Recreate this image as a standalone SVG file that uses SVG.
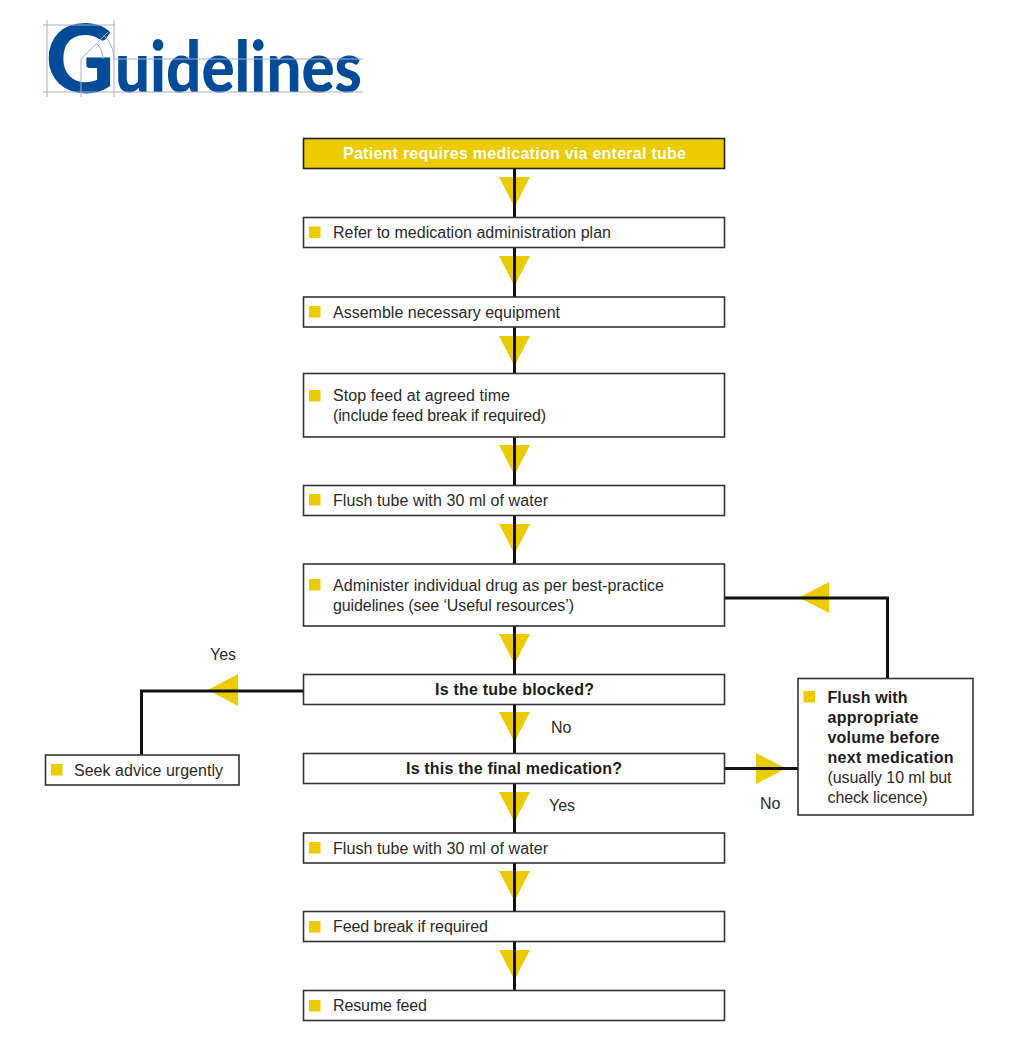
<svg xmlns="http://www.w3.org/2000/svg" xmlns:xlink="http://www.w3.org/1999/xlink" width="1022" height="1060" viewBox="0 0 1022 1060">
<style>
.box{fill:#fff;stroke:#333;stroke-width:1.6}
.t{font-family:"Liberation Sans",Arial,sans-serif;font-size:16px;fill:#2a2a2a}
.b{font-weight:700;fill:#1c1c1c}
.bul{fill:#eccb00}
.wire{fill:none;stroke:#111;stroke-width:3}
.tri{fill:#eccb00}
.guide{fill:none;stroke:#a9aed0;stroke-width:1}
.logo{font-family:Lato,"Liberation Sans",sans-serif;font-weight:900;fill:#024b98}
</style>
<defs>
<polygon id="d" class="tri" points="-15.500,0 15.500,0 0,30"/>
<rect id="s" class="bul" width="11.500" height="11.500"/>
</defs>
<rect width="1022" height="1060" fill="#fff"/>
<g id="logo">
<text class="logo" x="45.500" y="92.500" font-size="96" textLength="69" lengthAdjust="spacingAndGlyphs">G</text>
<text class="logo" x="115" y="92" font-size="70" textLength="247" lengthAdjust="spacingAndGlyphs">uidelines</text>
<path class="guide" d="M43 25H115M43 92H363M113 59H363M47 20V97M81 59V97M114 20V97M81 59L108 32M114 59A33 33 0 0 0 104 35.500M103 59A22 22 0 0 0 96.500 43.500"/>
</g>
<g id="connectors">
<use xlink:href="#d" href="#d" x="514.500" y="177"/>
<use xlink:href="#d" href="#d" x="514.500" y="256"/>
<use xlink:href="#d" href="#d" x="514.500" y="336"/>
<use xlink:href="#d" href="#d" x="514.500" y="445"/>
<use xlink:href="#d" href="#d" x="514.500" y="524"/>
<use xlink:href="#d" href="#d" x="514.500" y="634"/>
<use xlink:href="#d" href="#d" x="514.500" y="712"/>
<use xlink:href="#d" href="#d" x="514.500" y="792"/>
<use xlink:href="#d" href="#d" x="514.500" y="871"/>
<use xlink:href="#d" href="#d" x="514.500" y="950"/>
<polygon class="tri" points="208,690 238,674 238,706"/>
<polygon class="tri" points="799,597.500 829,582 829,613"/>
<polygon class="tri" points="786,768.500 756,753 756,784"/>
<path class="wire" d="M514.500 168V217M514.500 247V297M514.500 327V373M514.500 437V485M514.500 515V564M514.500 626V674M514.500 704V753M514.500 783V833M514.500 863V911M514.500 941V990"/>
<path class="wire" d="M303 691H141.500V755"/>
<path class="wire" d="M724 598H887.500V678"/>
<path class="wire" d="M724 768.500H798"/>
</g>
<g id="n1"><rect x="303.500" y="138.500" width="421" height="30" fill="#eccb00" stroke="#222" stroke-width="1.6"/><text class="t" x="343" y="159" textLength="343" style="font-weight:700;fill:#fff">Patient requires medication via enteral tube</text></g>
<g id="n2"><rect class="box" x="303.500" y="217.500" width="421" height="30"/><use xlink:href="#s" href="#s" x="309" y="226.500"/><text class="t" x="333" y="238" textLength="278">Refer to medication administration plan</text></g>
<g id="n3"><rect class="box" x="303.500" y="297" width="421" height="30"/><use xlink:href="#s" href="#s" x="309" y="306"/><text class="t" x="333" y="318" textLength="227">Assemble necessary equipment</text></g>
<g id="n4"><rect class="box" x="303.500" y="373.500" width="421" height="63.500"/><use xlink:href="#s" href="#s" x="309" y="390"/><text class="t" x="333" y="401" textLength="177">Stop feed at agreed time</text><text class="t" x="333" y="421" textLength="213">(include feed break if required)</text></g>
<g id="n5"><rect class="box" x="303.500" y="485.500" width="421" height="30"/><use xlink:href="#s" href="#s" x="309" y="494"/><text class="t" x="333" y="506" textLength="215">Flush tube with 30 ml of water</text></g>
<g id="n6"><rect class="box" x="303.500" y="564" width="421" height="62"/><use xlink:href="#s" href="#s" x="309" y="579"/><text class="t" x="333" y="591" textLength="331">Administer individual drug as per best-practice</text><text class="t" x="333" y="611" textLength="241">guidelines (see ‘Useful resources’)</text></g>
<g id="n7"><rect class="box" x="303.500" y="674.500" width="421" height="30"/><text class="t b" x="435" y="695" textLength="159">Is the tube blocked?</text></g>
<g id="n8"><rect class="box" x="303.500" y="753.500" width="421" height="30"/><text class="t b" x="406" y="774" textLength="216">Is this the final medication?</text></g>
<g id="n9"><rect class="box" x="303.500" y="833" width="421" height="30"/><use xlink:href="#s" href="#s" x="309" y="842"/><text class="t" x="333" y="854" textLength="215">Flush tube with 30 ml of water</text></g>
<g id="n10"><rect class="box" x="303.500" y="911.500" width="421" height="30"/><use xlink:href="#s" href="#s" x="309" y="921"/><text class="t" x="333" y="932" textLength="155">Feed break if required</text></g>
<g id="n11"><rect class="box" x="303.500" y="990.500" width="421" height="30"/><use xlink:href="#s" href="#s" x="309" y="1000"/><text class="t" x="333" y="1011" textLength="94">Resume feed</text></g>
<g id="n12"><rect class="box" x="45.500" y="755" width="193.500" height="30"/><use xlink:href="#s" href="#s" x="51" y="764"/><text class="t" x="74" y="776" textLength="149">Seek advice urgently</text></g>
<g id="n13"><rect class="box" x="798" y="678.500" width="175" height="136.500"/><use xlink:href="#s" href="#s" x="803.500" y="691"/>
<text class="t b" x="827.500" y="703" textLength="80">Flush with</text><text class="t b" x="827.500" y="723" textLength="91">appropriate</text><text class="t b" x="827.500" y="743" textLength="112">volume before</text><text class="t b" x="827.500" y="763" textLength="126">next medication</text><text class="t" x="827.500" y="783" textLength="124">(usually 10 ml but</text><text class="t" x="827.500" y="803" textLength="100">check licence)</text></g>
<g id="labels">
<text class="t" x="210" y="660">Yes</text>
<text class="t" x="551" y="733">No</text>
<text class="t" x="549" y="811">Yes</text>
<text class="t" x="760" y="809">No</text>
</g>
</svg>
